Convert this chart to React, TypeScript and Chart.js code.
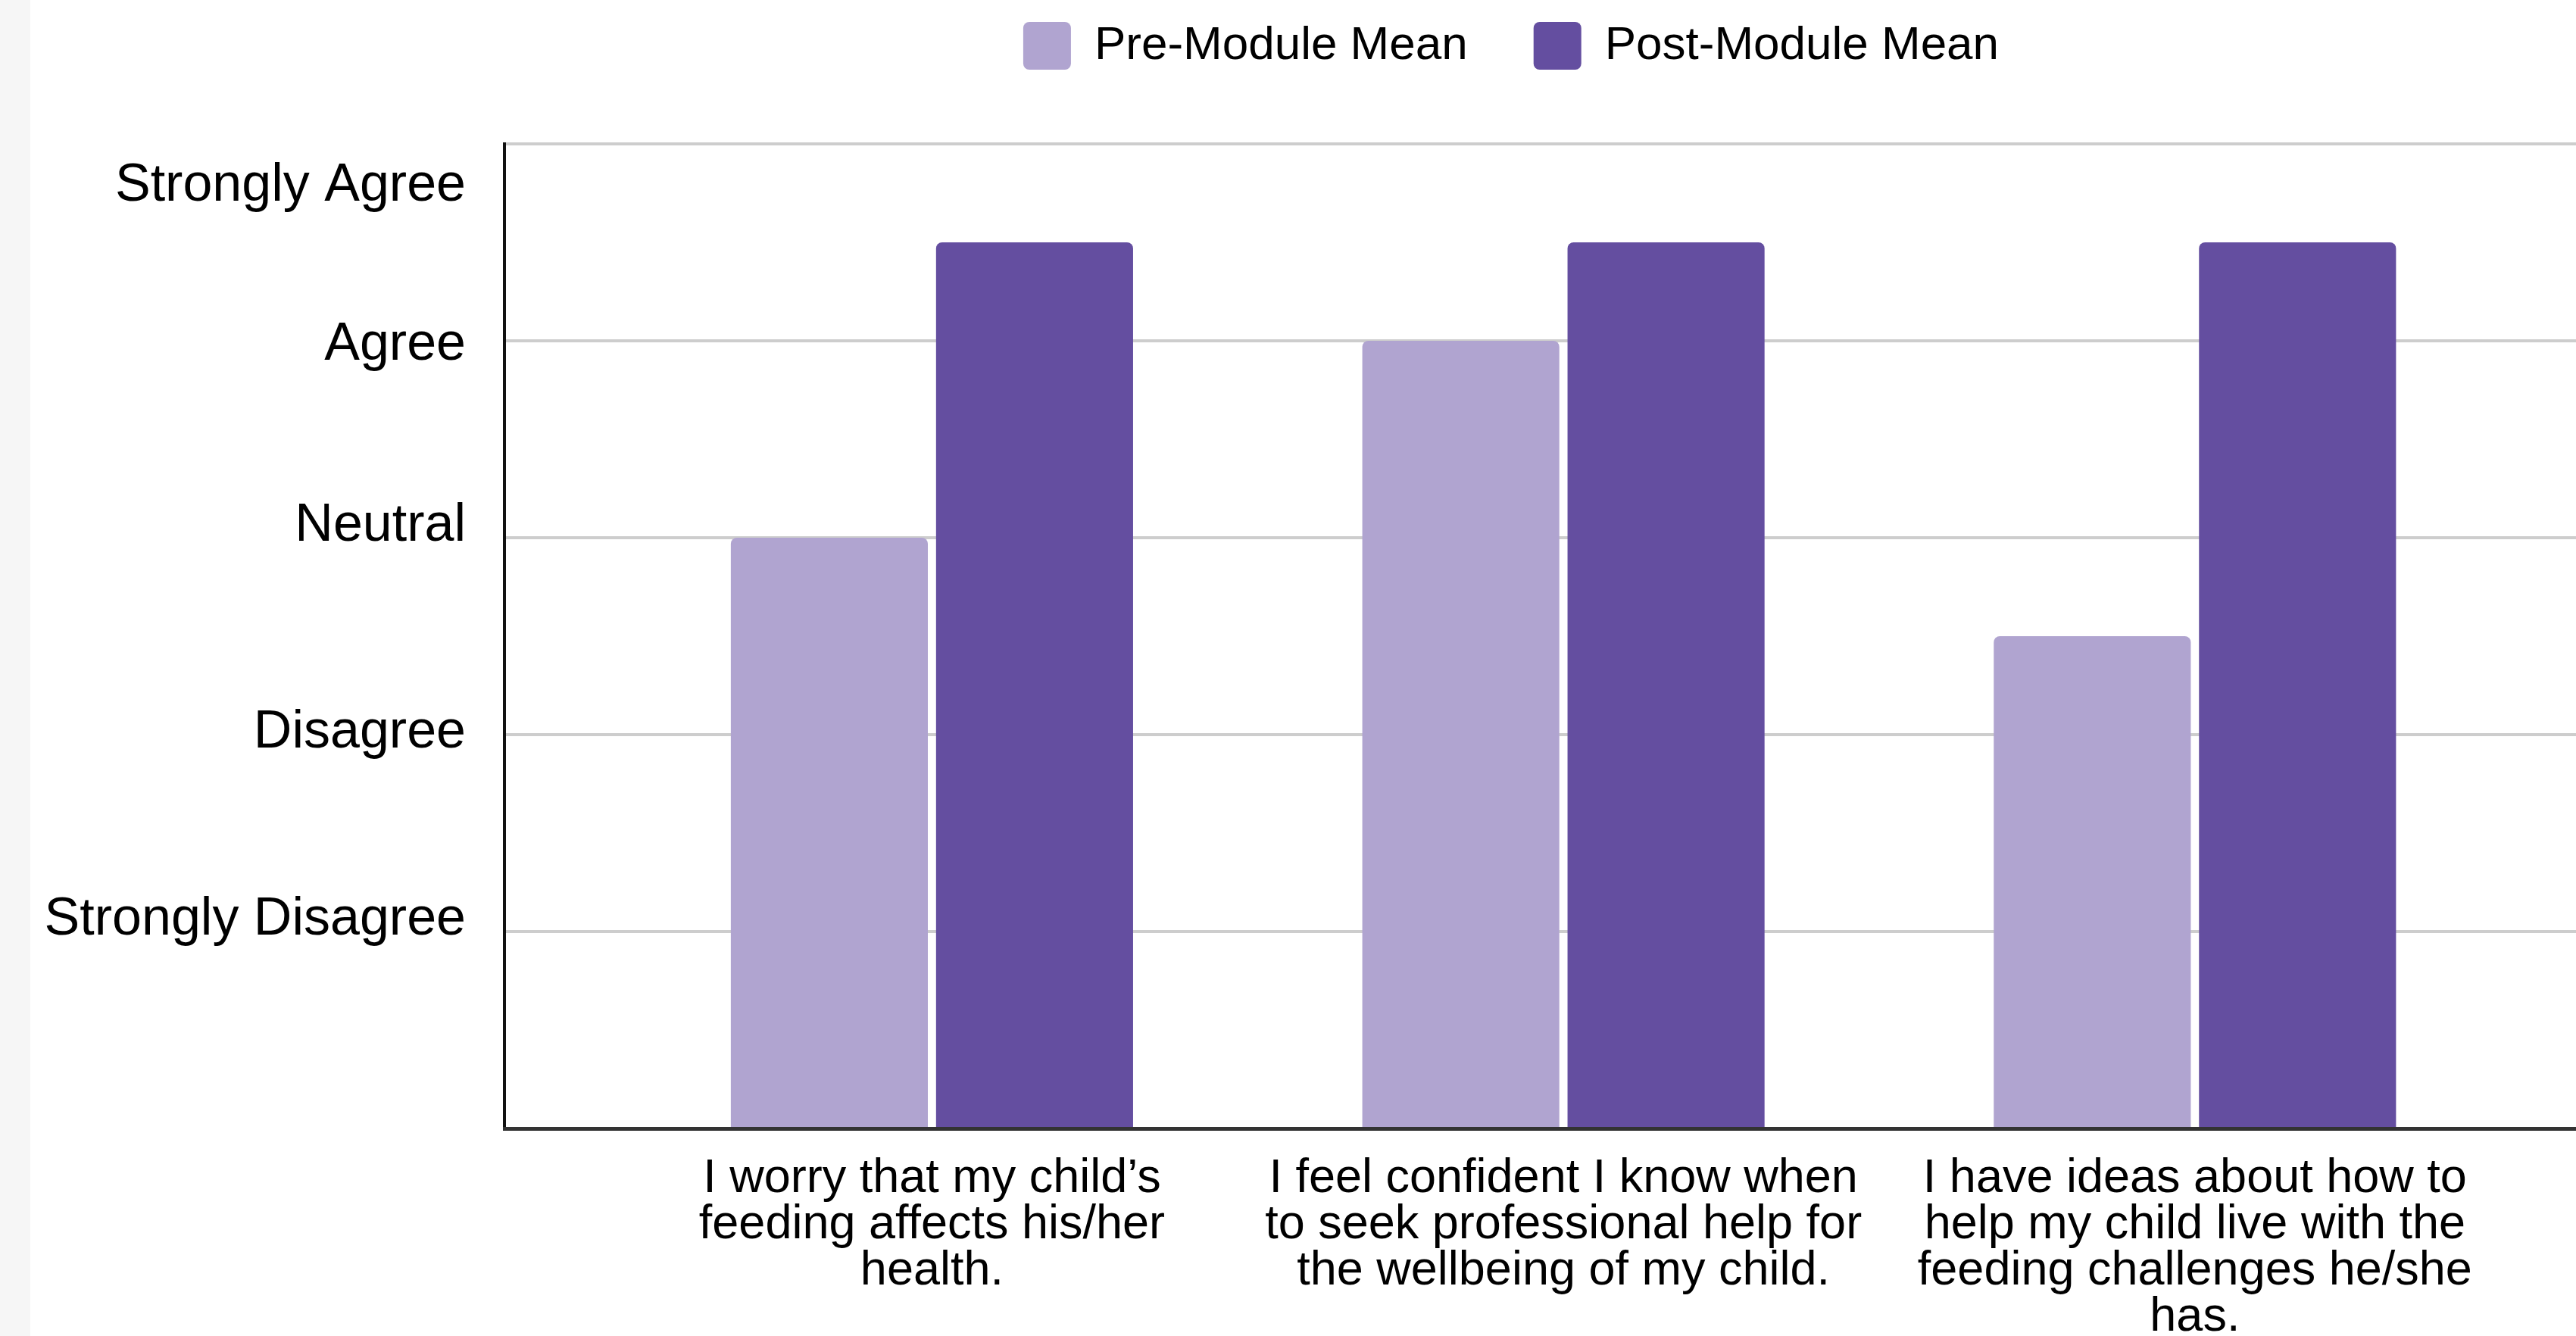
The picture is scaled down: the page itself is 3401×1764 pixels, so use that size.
import React, { useEffect, useRef } from "react";
import { Chart, registerables } from "chart.js";

Chart.register(...registerables);

const seriesNames = ["Pre-Module Mean", "Post-Module Mean"];
const categories: string[][] = [
  ["I worry that my child’s", "feeding affects his/her", "health."],
  ["I feel confident I know when", "to seek professional help for", "the wellbeing of my child."],
  ["I have ideas about how to", "help my child live with the", "feeding challenges he/she", "has."],
];
const categoryPositions = [1, 2, 3];
const preModuleMean = [3.0, 4.0, 2.5];
const postModuleMean = [4.5, 4.5, 4.5];
const gridValues = [0, 1, 2, 3, 4, 5];
const yTickLabels = ["Strongly Disagree", "Disagree", "Neutral", "Agree", "Strongly Agree"];
const yTickPositions = [1.08, 2.03, 3.08, 4.0, 4.81];

const seriesColors = ["#b0a4d0", "#644ea0"];
const FONT = "'Liberation Sans', Arial, Helvetica, sans-serif";

export default function App() {
  const ref = useRef<HTMLCanvasElement | null>(null);

  useEffect(() => {
    if (!ref.current) return;
    const legendHeightPlugin = {
      id: "legendHeight",
      beforeLayout(chart: any) {
        const leg = chart.legend;
        if (leg && !leg.__patched) {
          const orig = leg.fit;
          leg.fit = function () {
            orig.call(this);
            this.height = 248;
          };
          leg.__patched = true;
        }
      },
    };
    const chart = new Chart(ref.current, {
      type: "bar",
      data: {
        datasets: [
          {
            label: seriesNames[0],
            data: categoryPositions.map((x, i) => ({ x, y: preModuleMean[i] })),
            backgroundColor: seriesColors[0],
            borderRadius: 8,
            borderSkipped: "start",
          },
          {
            label: seriesNames[1],
            data: categoryPositions.map((x, i) => ({ x, y: postModuleMean[i] })),
            backgroundColor: seriesColors[1],
            borderRadius: 8,
            borderSkipped: "start",
          },
        ],
      },
      plugins: [legendHeightPlugin],
      options: {
        responsive: false,
        animation: false,
        devicePixelRatio: 1,
        categoryPercentage: 0.65,
        barPercentage: 0.96,
        layout: { padding: { top: -58, left: 0, right: 0, bottom: 0 } },
        plugins: {
          legend: {
            position: "top",
            align: "center",
            labels: {
              boxWidth: 63,
              boxHeight: 63,
              padding: 87,
              color: "#000",
              font: { family: FONT, size: 62 },
              useBorderRadius: true,
              borderRadius: 8,
            },
          },
          tooltip: { enabled: false },
        },
        scales: {
          x: {
            type: "linear",
            min: 0.323,
            max: 4.31,
            bounds: "data",
            offset: false,
            grid: { display: false, offset: false },
            border: { display: true, color: "#333", width: 5, z: 1 },
            ticks: {
              autoSkip: false,
              maxRotation: 0,
              minRotation: 0,
              padding: 28,
              color: "#000",
              font: { family: FONT, size: 63, lineHeight: 0.97 },
              callback: (v: any) => {
                const i = categoryPositions.indexOf(Number(v));
                return i >= 0 ? categories[i] : "";
              },
            },
            afterBuildTicks: (s: any) => {
              s.ticks = categoryPositions.map((v) => ({ value: v }));
            },
            afterFit: (s: any) => {
              s.height = 274;
            },
          },
          y: {
            type: "linear",
            position: "left",
            weight: 0,
            min: 0,
            max: 5,
            bounds: "data",
            ticks: { display: false, stepSize: 1 },
            afterBuildTicks: (s: any) => {
              s.ticks = gridValues.map((v) => ({ value: v }));
            },
            grid: { color: "#cdcdcd", lineWidth: 4, drawTicks: false },
            border: { display: true, color: "#111", width: 4 },
          },
          y2: {
            type: "linear",
            position: "left",
            weight: 1,
            min: 0,
            max: 5,
            bounds: "data",
            grid: { display: false },
            border: { display: false },
            ticks: {
              autoSkip: false,
              padding: 43,
              labelOffset: 6,
              color: "#000",
              font: { family: FONT, size: 70 },
              callback: (_v: any, i: number) => yTickLabels[i],
            },
            afterBuildTicks: (s: any) => {
              s.ticks = yTickPositions.map((v) => ({ value: v }));
            },
            afterFit: (s: any) => {
              s.width = 666;
            },
          },
        },
      } as any,
    });
    return () => chart.destroy();
  }, []);

  return (
    <div
      style={{
        position: "fixed",
        left: 0,
        top: 0,
        width: 3401,
        height: 1764,
        overflow: "hidden",
        background: "#ffffff",
      }}
    >
      <div
        style={{
          position: "absolute",
          left: 0,
          top: 0,
          width: 40,
          height: 1764,
          background: "#f6f6f6",
        }}
      />
      <canvas
        ref={ref}
        width={3990}
        height={1764}
        style={{ position: "absolute", left: 0, top: 0, width: 3990, height: 1764 }}
      />
    </div>
  );
}
